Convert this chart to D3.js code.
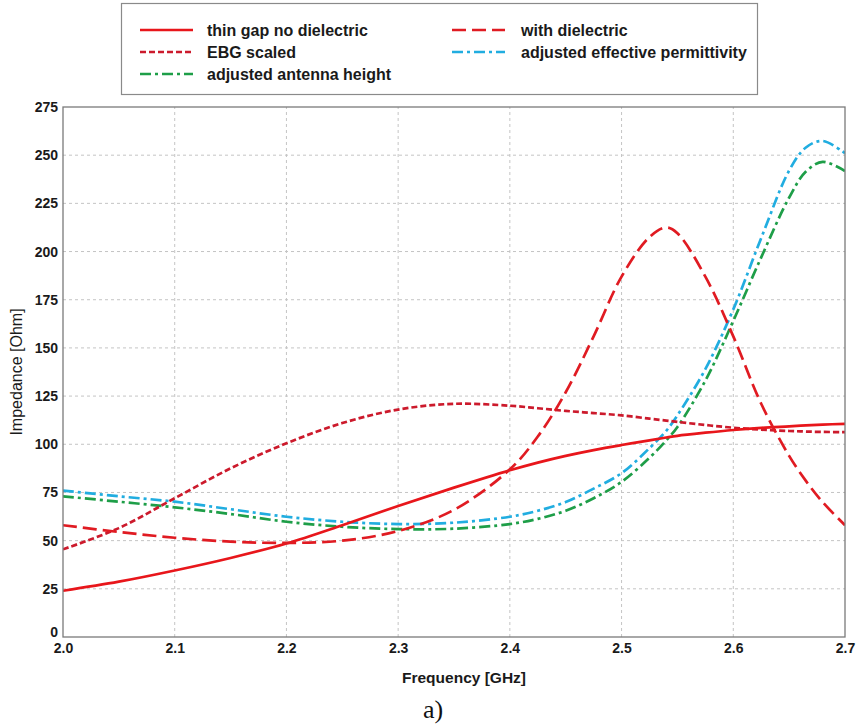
<!DOCTYPE html>
<html><head><meta charset="utf-8">
<script src="https://cdn.jsdelivr.net/npm/d3@7"></script>
<style>
html,body{margin:0;padding:0;background:#fff;}
svg{display:block;}
</style></head>
<body>
<svg id="chart" width="859" height="727"></svg>
<script>
// ---------- data ----------
const freq = [2.0,2.05,2.1,2.15,2.2,2.25,2.3,2.35,2.4,2.425,2.45,2.475,2.5,2.525,2.54,2.55,2.575,2.6,2.625,2.65,2.665,2.68,2.7];
const thinGap = [24,28.7,34.5,41,48.5,58,68,77.5,86.5,90.5,94,97,99.6,102,103.5,104.4,106,107.4,108.5,109.3,109.8,110.2,110.6];
const withDielectric = [58,54.5,51.5,49.5,48.8,50,55,66,87,104,127,156,187,207.5,212.5,209.5,187,156,121,94,81,70,58];
const ebgScaled = [45.5,56.5,72,87.5,100.5,111,118,121,120,118.7,117.3,116.2,115,113.3,112.3,111.6,110,108.6,107.6,106.9,106.6,106.4,106.3];
const adjPermittivity = [76,73,70.2,66.3,62.4,59.8,58.6,59.3,62.4,65.5,70,77,85,98,107,115,139,170,207,242,254,257.4,251];
const adjHeight = [73,70.2,67.3,63.8,59.8,57.2,56,56.2,58.6,61.3,65.5,72,80.5,93,102,109,133,164,197,228,241.5,246.5,241.8];
const xTicks = [2.0,2.1,2.2,2.3,2.4,2.5,2.6,2.7];
const yTicks = [0,25,50,75,100,125,150,175,200,225,250,275];
const seriesNames = ["thin gap no dielectric","with dielectric","EBG scaled","adjusted effective permittivity","adjusted antenna height"];

// ---------- styles ----------
const styles = [
  {name:seriesNames[0], values:thinGap, color:"#e8161b", dash:null},
  {name:seriesNames[1], values:withDielectric, color:"#e01b22", dash:"14,6"},
  {name:seriesNames[2], values:ebgScaled, color:"#cc1a2c", dash:"6,3"},
  {name:seriesNames[3], values:adjPermittivity, color:"#21ade0", dash:"11,4,3,4"},
  {name:seriesNames[4], values:adjHeight, color:"#1e9e48", dash:"11,4,3,4"}
];

const svg = d3.select("#chart");
const m = {l:63, r:14, t:107, b:90};
const W = 859, H = 727;
const x = d3.scaleLinear().domain([2.0,2.7]).range([m.l, W-m.r]);
const y = d3.scaleLinear().domain([0,275]).range([H-m.b, m.t]);

// grid
const g = svg.append("g");
g.selectAll("line.vg").data(xTicks.slice(1,-1)).enter().append("line")
  .attr("x1",d=>x(d)).attr("x2",d=>x(d)).attr("y1",y(0)).attr("y2",y(275))
  .attr("stroke","#c4c4c4").attr("stroke-width",1).attr("stroke-dasharray","3,3");
g.selectAll("line.hg").data(yTicks.slice(1,-1)).enter().append("line")
  .attr("x1",x(2.0)).attr("x2",x(2.7)).attr("y1",d=>y(d)).attr("y2",d=>y(d))
  .attr("stroke","#c4c4c4").attr("stroke-width",1).attr("stroke-dasharray","3,3");

// lines
const line = d3.line().x((d,i)=>x(freq[i])).y(d=>y(d)).curve(d3.curveCatmullRom.alpha(0.5));
svg.append("defs").append("clipPath").attr("id","clip").append("rect")
  .attr("x",x(2.0)).attr("y",y(275)).attr("width",x(2.7)-x(2.0)).attr("height",y(0)-y(275));
const lg = svg.append("g").attr("clip-path","url(#clip)");
[styles[4],styles[3],styles[2],styles[0],styles[1]].forEach(s=>{
  lg.append("path").datum(s.values).attr("d",line).attr("fill","none")
    .attr("stroke",s.color).attr("stroke-width",2.7)
    .attr("stroke-dasharray",s.dash);
});

// frame
svg.append("rect").attr("x",x(2.0)).attr("y",y(275)).attr("width",x(2.7)-x(2.0)).attr("height",y(0)-y(275))
  .attr("fill","none").attr("stroke","#7a7a7a").attr("stroke-width",1.3);

// axes
const font = "'Liberation Sans', Arial, sans-serif";
const xa = svg.append("g").attr("transform",`translate(0,${y(0)})`)
  .call(d3.axisBottom(x).tickValues(xTicks).tickFormat(d3.format(".1f")).tickSize(0).tickPadding(6));
xa.select(".domain").remove();
xa.selectAll("text").attr("font-family",font).attr("font-weight","bold").attr("font-size",14).attr("fill","#1a1a1a");
const ya = svg.append("g").attr("transform",`translate(${x(2.0)},0)`)
  .call(d3.axisLeft(y).tickValues(yTicks).tickSize(0).tickPadding(5));
ya.select(".domain").remove();
ya.selectAll("text").attr("font-family",font).attr("font-weight","bold").attr("font-size",14).attr("fill","#1a1a1a")
  .attr("dy",d=>d===0?"-0.05em":"0.32em");

// axis titles
svg.append("text").attr("x",(x(2.0)+x(2.7))/2+10).attr("y",683).attr("text-anchor","middle")
  .attr("font-family",font).attr("font-weight","bold").attr("font-size",15.5).attr("fill","#1a1a1a")
  .text("Frequency [GHz]");
svg.append("text").attr("transform",`translate(22,${(y(0)+y(275))/2}) rotate(-90)`).attr("text-anchor","middle")
  .attr("font-family",font).attr("font-size",16).attr("fill","#1a1a1a")
  .text("Impedance [Ohm]");
svg.append("text").attr("x",433).attr("y",718).attr("text-anchor","middle")
  .attr("font-family","'Liberation Serif', 'Times New Roman', serif").attr("font-size",26).attr("fill","#111")
  .text("a)");

// legend
const leg = svg.append("g");
leg.append("rect").attr("x",121.5).attr("y",3.5).attr("width",636).attr("height",91)
  .attr("fill","#fff").attr("stroke","#8a8a8a").attr("stroke-width",1.2);
const legPos = [
  {s:styles[0], lx:140, tx:207, yy:30},
  {s:styles[1], lx:452, tx:521, yy:30},
  {s:styles[2], lx:140, tx:207, yy:52},
  {s:styles[3], lx:452, tx:521, yy:52},
  {s:styles[4], lx:140, tx:207, yy:74}
];
legPos.forEach(p=>{
  leg.append("line").attr("x1",p.lx).attr("x2",p.lx+53).attr("y1",p.yy).attr("y2",p.yy)
    .attr("stroke",p.s.color).attr("stroke-width",2.7).attr("stroke-dasharray",p.s.dash);
  leg.append("text").attr("x",p.tx).attr("y",p.yy+5.5)
    .attr("font-family",font).attr("font-weight","bold").attr("font-size",16).attr("fill","#1a1a1a")
    .text(p.s.name);
});
</script>
</body></html>
